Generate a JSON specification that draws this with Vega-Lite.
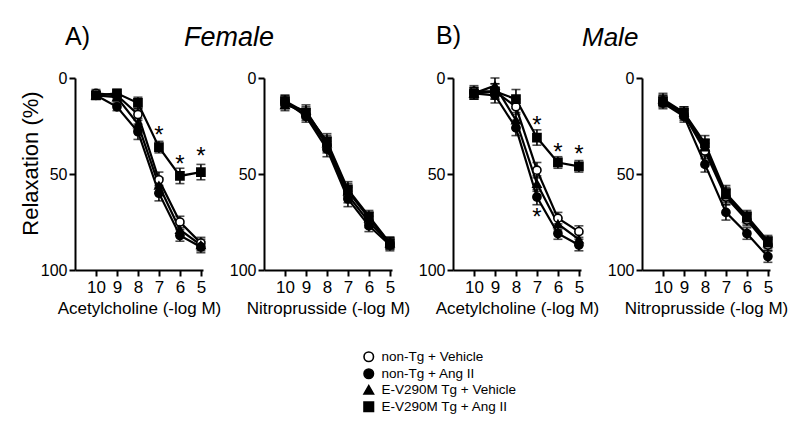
{
  "$schema": "https://vega.github.io/schema/vega-lite/v6.json",
  "autosize": {"type": "none"},
  "padding": {"left": 75, "top": 78, "right": 725, "bottom": 351},
  "background": "white",
  "config": {
    "font": "Liberation Sans",
    "view": {"stroke": null},
    "axis": {"grid": false, "domainColor": "black", "domainWidth": 2, "tickColor": "black", "tickWidth": 2, "tickSize": 6, "labelColor": "black", "labelFontSize": 16, "labelPadding": 2, "titleColor": "black", "titleFontSize": 17, "titleFontWeight": "normal", "titlePadding": 5},
    "axisX": {"labelFontSize": 17, "labelPadding": 3},
    "legend": {"title": null, "padding": 0, "labelFontSize": 13.5, "labelColor": "black", "symbolSize": 90, "symbolStrokeWidth": 1.6, "rowPadding": 0, "labelOffset": 6},
    "title": {"color": "black", "fontWeight": "normal", "baseline": "alphabetic", "frame": "group", "anchor": "start"}
  },
  "datasets": {
    "d": [
      {"p": "A1", "g": "non-Tg + Vehicle", "x": 10, "y": 8, "e": 2},
      {"p": "A1", "g": "non-Tg + Ang II", "x": 10, "y": 9, "e": 2},
      {"p": "A1", "g": "E-V290M Tg + Vehicle", "x": 10, "y": 9, "e": 2},
      {"p": "A1", "g": "E-V290M Tg + Ang II", "x": 10, "y": 9, "e": 2},
      {"p": "A1", "g": "non-Tg + Vehicle", "x": 9, "y": 9, "e": 2},
      {"p": "A1", "g": "non-Tg + Ang II", "x": 9, "y": 15, "e": 2},
      {"p": "A1", "g": "E-V290M Tg + Vehicle", "x": 9, "y": 10, "e": 2},
      {"p": "A1", "g": "E-V290M Tg + Ang II", "x": 9, "y": 8, "e": 2},
      {"p": "A1", "g": "non-Tg + Vehicle", "x": 8, "y": 19, "e": 3},
      {"p": "A1", "g": "non-Tg + Ang II", "x": 8, "y": 28, "e": 4},
      {"p": "A1", "g": "E-V290M Tg + Vehicle", "x": 8, "y": 24, "e": 3},
      {"p": "A1", "g": "E-V290M Tg + Ang II", "x": 8, "y": 13, "e": 3},
      {"p": "A1", "g": "non-Tg + Vehicle", "x": 7, "y": 53, "e": 4},
      {"p": "A1", "g": "non-Tg + Ang II", "x": 7, "y": 60, "e": 4},
      {"p": "A1", "g": "E-V290M Tg + Vehicle", "x": 7, "y": 56, "e": 4},
      {"p": "A1", "g": "E-V290M Tg + Ang II", "x": 7, "y": 36, "e": 3},
      {"p": "A1", "g": "non-Tg + Vehicle", "x": 6, "y": 75, "e": 3},
      {"p": "A1", "g": "non-Tg + Ang II", "x": 6, "y": 82, "e": 3},
      {"p": "A1", "g": "E-V290M Tg + Vehicle", "x": 6, "y": 79, "e": 3},
      {"p": "A1", "g": "E-V290M Tg + Ang II", "x": 6, "y": 51, "e": 4},
      {"p": "A1", "g": "non-Tg + Vehicle", "x": 5, "y": 86, "e": 3},
      {"p": "A1", "g": "non-Tg + Ang II", "x": 5, "y": 88, "e": 3},
      {"p": "A1", "g": "E-V290M Tg + Vehicle", "x": 5, "y": 87, "e": 3},
      {"p": "A1", "g": "E-V290M Tg + Ang II", "x": 5, "y": 49, "e": 4},

      {"p": "A2", "g": "non-Tg + Vehicle", "x": 10, "y": 13, "e": 3},
      {"p": "A2", "g": "non-Tg + Ang II", "x": 10, "y": 12, "e": 3},
      {"p": "A2", "g": "E-V290M Tg + Vehicle", "x": 10, "y": 14, "e": 3},
      {"p": "A2", "g": "E-V290M Tg + Ang II", "x": 10, "y": 12, "e": 3},
      {"p": "A2", "g": "non-Tg + Vehicle", "x": 9, "y": 19, "e": 3},
      {"p": "A2", "g": "non-Tg + Ang II", "x": 9, "y": 20, "e": 3},
      {"p": "A2", "g": "E-V290M Tg + Vehicle", "x": 9, "y": 17, "e": 3},
      {"p": "A2", "g": "E-V290M Tg + Ang II", "x": 9, "y": 18, "e": 3},
      {"p": "A2", "g": "non-Tg + Vehicle", "x": 8, "y": 35, "e": 4},
      {"p": "A2", "g": "non-Tg + Ang II", "x": 8, "y": 37, "e": 4},
      {"p": "A2", "g": "E-V290M Tg + Vehicle", "x": 8, "y": 34, "e": 4},
      {"p": "A2", "g": "E-V290M Tg + Ang II", "x": 8, "y": 33, "e": 4},
      {"p": "A2", "g": "non-Tg + Vehicle", "x": 7, "y": 61, "e": 4},
      {"p": "A2", "g": "non-Tg + Ang II", "x": 7, "y": 63, "e": 4},
      {"p": "A2", "g": "E-V290M Tg + Vehicle", "x": 7, "y": 59, "e": 4},
      {"p": "A2", "g": "E-V290M Tg + Ang II", "x": 7, "y": 58, "e": 4},
      {"p": "A2", "g": "non-Tg + Vehicle", "x": 6, "y": 75, "e": 3},
      {"p": "A2", "g": "non-Tg + Ang II", "x": 6, "y": 77, "e": 3},
      {"p": "A2", "g": "E-V290M Tg + Vehicle", "x": 6, "y": 73, "e": 3},
      {"p": "A2", "g": "E-V290M Tg + Ang II", "x": 6, "y": 72, "e": 3},
      {"p": "A2", "g": "non-Tg + Vehicle", "x": 5, "y": 86, "e": 3},
      {"p": "A2", "g": "non-Tg + Ang II", "x": 5, "y": 87, "e": 3},
      {"p": "A2", "g": "E-V290M Tg + Vehicle", "x": 5, "y": 86, "e": 3},
      {"p": "A2", "g": "E-V290M Tg + Ang II", "x": 5, "y": 86, "e": 3},

      {"p": "B1", "g": "non-Tg + Vehicle", "x": 10, "y": 7, "e": 3},
      {"p": "B1", "g": "non-Tg + Ang II", "x": 10, "y": 8, "e": 3},
      {"p": "B1", "g": "E-V290M Tg + Vehicle", "x": 10, "y": 8, "e": 3},
      {"p": "B1", "g": "E-V290M Tg + Ang II", "x": 10, "y": 8, "e": 3},
      {"p": "B1", "g": "non-Tg + Vehicle", "x": 9, "y": 7, "e": 4},
      {"p": "B1", "g": "non-Tg + Ang II", "x": 9, "y": 9, "e": 4},
      {"p": "B1", "g": "E-V290M Tg + Vehicle", "x": 9, "y": 4, "e": 4},
      {"p": "B1", "g": "E-V290M Tg + Ang II", "x": 9, "y": 7, "e": 4},
      {"p": "B1", "g": "non-Tg + Vehicle", "x": 8, "y": 15, "e": 4},
      {"p": "B1", "g": "non-Tg + Ang II", "x": 8, "y": 26, "e": 4},
      {"p": "B1", "g": "E-V290M Tg + Vehicle", "x": 8, "y": 22, "e": 4},
      {"p": "B1", "g": "E-V290M Tg + Ang II", "x": 8, "y": 11, "e": 5},
      {"p": "B1", "g": "non-Tg + Vehicle", "x": 7, "y": 48, "e": 4},
      {"p": "B1", "g": "non-Tg + Ang II", "x": 7, "y": 62, "e": 4},
      {"p": "B1", "g": "E-V290M Tg + Vehicle", "x": 7, "y": 55, "e": 4},
      {"p": "B1", "g": "E-V290M Tg + Ang II", "x": 7, "y": 31, "e": 4},
      {"p": "B1", "g": "non-Tg + Vehicle", "x": 6, "y": 73, "e": 3},
      {"p": "B1", "g": "non-Tg + Ang II", "x": 6, "y": 81, "e": 3},
      {"p": "B1", "g": "E-V290M Tg + Vehicle", "x": 6, "y": 76, "e": 3},
      {"p": "B1", "g": "E-V290M Tg + Ang II", "x": 6, "y": 44, "e": 3},
      {"p": "B1", "g": "non-Tg + Vehicle", "x": 5, "y": 80, "e": 3},
      {"p": "B1", "g": "non-Tg + Ang II", "x": 5, "y": 87, "e": 3},
      {"p": "B1", "g": "E-V290M Tg + Vehicle", "x": 5, "y": 84, "e": 3},
      {"p": "B1", "g": "E-V290M Tg + Ang II", "x": 5, "y": 46, "e": 3},

      {"p": "B2", "g": "non-Tg + Vehicle", "x": 10, "y": 12, "e": 3},
      {"p": "B2", "g": "non-Tg + Ang II", "x": 10, "y": 13, "e": 3},
      {"p": "B2", "g": "E-V290M Tg + Vehicle", "x": 10, "y": 11, "e": 3},
      {"p": "B2", "g": "E-V290M Tg + Ang II", "x": 10, "y": 12, "e": 3},
      {"p": "B2", "g": "non-Tg + Vehicle", "x": 9, "y": 19, "e": 3},
      {"p": "B2", "g": "non-Tg + Ang II", "x": 9, "y": 20, "e": 3},
      {"p": "B2", "g": "E-V290M Tg + Vehicle", "x": 9, "y": 18, "e": 3},
      {"p": "B2", "g": "E-V290M Tg + Ang II", "x": 9, "y": 18, "e": 3},
      {"p": "B2", "g": "non-Tg + Vehicle", "x": 8, "y": 38, "e": 4},
      {"p": "B2", "g": "non-Tg + Ang II", "x": 8, "y": 45, "e": 4},
      {"p": "B2", "g": "E-V290M Tg + Vehicle", "x": 8, "y": 36, "e": 4},
      {"p": "B2", "g": "E-V290M Tg + Ang II", "x": 8, "y": 34, "e": 4},
      {"p": "B2", "g": "non-Tg + Vehicle", "x": 7, "y": 62, "e": 4},
      {"p": "B2", "g": "non-Tg + Ang II", "x": 7, "y": 70, "e": 4},
      {"p": "B2", "g": "E-V290M Tg + Vehicle", "x": 7, "y": 61, "e": 4},
      {"p": "B2", "g": "E-V290M Tg + Ang II", "x": 7, "y": 60, "e": 4},
      {"p": "B2", "g": "non-Tg + Vehicle", "x": 6, "y": 74, "e": 3},
      {"p": "B2", "g": "non-Tg + Ang II", "x": 6, "y": 81, "e": 3},
      {"p": "B2", "g": "E-V290M Tg + Vehicle", "x": 6, "y": 73, "e": 3},
      {"p": "B2", "g": "E-V290M Tg + Ang II", "x": 6, "y": 72, "e": 3},
      {"p": "B2", "g": "non-Tg + Vehicle", "x": 5, "y": 87, "e": 3},
      {"p": "B2", "g": "non-Tg + Ang II", "x": 5, "y": 93, "e": 3},
      {"p": "B2", "g": "E-V290M Tg + Vehicle", "x": 5, "y": 86, "e": 3},
      {"p": "B2", "g": "E-V290M Tg + Ang II", "x": 5, "y": 85, "e": 3}
    ],
    "s": [
      {"p": "A1", "x": 7, "y": 27},
      {"p": "A1", "x": 6, "y": 42},
      {"p": "A1", "x": 5, "y": 38},
      {"p": "B1", "x": 7, "y": 22},
      {"p": "B1", "x": 6, "y": 36},
      {"p": "B1", "x": 5, "y": 37},
      {"p": "B1", "x": 7, "y": 70}
    ]
  },
  "bounds": "flush",
  "spacing": 61,
  "resolve": {"scale": {"x": "independent", "y": "independent", "shape": "shared", "fill": "shared", "stroke": "shared"}},
  "hconcat": [
    {
      "width": 128, "height": 192,
      "title": {"text": "A)", "fontSize": 25, "dx": -10, "offset": 20},
      "layer": [
        {"data": {"name": "d"}, "transform": [{"filter": "datum.p === 'A1'"}],
         "mark": {"type": "line", "color": "black", "strokeWidth": 2.2},
         "encoding": {
           "x": {"field": "x", "type": "quantitative", "scale": {"domain": [4.9, 11], "reverse": true, "nice": false, "zero": false}, "axis": {"values": [10, 9, 8, 7, 6, 5], "title": "Acetylcholine (-log M)", "labelFlush": false, "labelOverlap": false}},
           "y": {"field": "y", "type": "quantitative", "scale": {"domain": [0, 100], "reverse": true, "nice": false}, "axis": {"values": [0, 50, 100], "title": "Relaxation (%)", "titleFontSize": 22, "titlePadding": -2, "titleY": 85}},
           "detail": {"field": "g"}}},
        {"data": {"name": "d"}, "transform": [{"filter": "datum.p === 'A1'"}],
         "mark": {"type": "errorbar", "color": "black", "thickness": 1.6, "ticks": {"size": 9, "thickness": 1.6, "color": "black"}},
         "encoding": {
           "x": {"field": "x", "type": "quantitative", "scale": {"domain": [4.9, 11], "reverse": true, "nice": false, "zero": false}, "axis": {"values": [10, 9, 8, 7, 6, 5], "title": "Acetylcholine (-log M)", "labelFlush": false, "labelOverlap": false}},
           "y": {"field": "y", "type": "quantitative", "scale": {"domain": [0, 100], "reverse": true, "nice": false}, "axis": {"values": [0, 50, 100], "title": "Relaxation (%)", "titleFontSize": 22, "titlePadding": -2, "titleY": 85}},
           "yError": {"field": "e"}}},
        {"data": {"name": "d"}, "transform": [{"filter": "datum.p === 'A1'"}],
         "mark": {"type": "point", "filled": true, "size": 66, "strokeWidth": 1.6, "opacity": 1},
         "encoding": {
           "x": {"field": "x", "type": "quantitative", "scale": {"domain": [4.9, 11], "reverse": true, "nice": false, "zero": false}, "axis": {"values": [10, 9, 8, 7, 6, 5], "title": "Acetylcholine (-log M)", "labelFlush": false, "labelOverlap": false}},
           "y": {"field": "y", "type": "quantitative", "scale": {"domain": [0, 100], "reverse": true, "nice": false}, "axis": {"values": [0, 50, 100], "title": "Relaxation (%)", "titleFontSize": 22, "titlePadding": -2, "titleY": 85}},
           "shape": {"field": "g", "type": "nominal", "scale": {"domain": ["non-Tg + Vehicle", "non-Tg + Ang II", "E-V290M Tg + Vehicle", "E-V290M Tg + Ang II"], "range": ["circle", "circle", "triangle-up", "square"]}, "legend": {"orient": "none", "legendX": 287, "legendY": 272}},
           "fill": {"field": "g", "type": "nominal", "scale": {"domain": ["non-Tg + Vehicle", "non-Tg + Ang II", "E-V290M Tg + Vehicle", "E-V290M Tg + Ang II"], "range": ["white", "black", "black", "black"]}, "legend": {"orient": "none", "legendX": 287, "legendY": 272}},
           "stroke": {"field": "g", "type": "nominal", "scale": {"domain": ["non-Tg + Vehicle", "non-Tg + Ang II", "E-V290M Tg + Vehicle", "E-V290M Tg + Ang II"], "range": ["black", "black", "black", "black"]}, "legend": {"orient": "none", "legendX": 287, "legendY": 272}}}},
        {"data": {"name": "s"}, "transform": [{"filter": "datum.p === 'A1'"}],
         "mark": {"type": "text", "text": "*", "fontSize": 24, "color": "black", "baseline": "alphabetic", "dy": 13},
         "encoding": {
           "x": {"field": "x", "type": "quantitative", "scale": {"domain": [4.9, 11], "reverse": true, "nice": false, "zero": false}, "axis": {"values": [10, 9, 8, 7, 6, 5], "title": "Acetylcholine (-log M)", "labelFlush": false, "labelOverlap": false}},
           "y": {"field": "y", "type": "quantitative", "scale": {"domain": [0, 100], "reverse": true, "nice": false}, "axis": {"values": [0, 50, 100], "title": "Relaxation (%)", "titleFontSize": 22, "titlePadding": -2, "titleY": 85}}}}
      ]
    },
    {
      "width": 128, "height": 192,
      "title": {"text": "Female", "fontSize": 27, "fontStyle": "italic", "dx": -80, "offset": 18},
      "layer": [
        {"data": {"name": "d"}, "transform": [{"filter": "datum.p === 'A2'"}],
         "mark": {"type": "line", "color": "black", "strokeWidth": 2.2},
         "encoding": {
           "x": {"field": "x", "type": "quantitative", "scale": {"domain": [4.9, 11], "reverse": true, "nice": false, "zero": false}, "axis": {"values": [10, 9, 8, 7, 6, 5], "title": "Nitroprusside (-log M)", "labelFlush": false, "labelOverlap": false}},
           "y": {"field": "y", "type": "quantitative", "scale": {"domain": [0, 100], "reverse": true, "nice": false}, "axis": {"values": [0, 50, 100], "title": null}},
           "detail": {"field": "g"}}},
        {"data": {"name": "d"}, "transform": [{"filter": "datum.p === 'A2'"}],
         "mark": {"type": "errorbar", "color": "black", "thickness": 1.6, "ticks": {"size": 9, "thickness": 1.6, "color": "black"}},
         "encoding": {
           "x": {"field": "x", "type": "quantitative", "scale": {"domain": [4.9, 11], "reverse": true, "nice": false, "zero": false}, "axis": {"values": [10, 9, 8, 7, 6, 5], "title": "Nitroprusside (-log M)", "labelFlush": false, "labelOverlap": false}},
           "y": {"field": "y", "type": "quantitative", "scale": {"domain": [0, 100], "reverse": true, "nice": false}, "axis": {"values": [0, 50, 100], "title": null}},
           "yError": {"field": "e"}}},
        {"data": {"name": "d"}, "transform": [{"filter": "datum.p === 'A2'"}],
         "mark": {"type": "point", "filled": true, "size": 66, "strokeWidth": 1.6, "opacity": 1},
         "encoding": {
           "x": {"field": "x", "type": "quantitative", "scale": {"domain": [4.9, 11], "reverse": true, "nice": false, "zero": false}, "axis": {"values": [10, 9, 8, 7, 6, 5], "title": "Nitroprusside (-log M)", "labelFlush": false, "labelOverlap": false}},
           "y": {"field": "y", "type": "quantitative", "scale": {"domain": [0, 100], "reverse": true, "nice": false}, "axis": {"values": [0, 50, 100], "title": null}},
           "shape": {"field": "g", "type": "nominal", "scale": {"domain": ["non-Tg + Vehicle", "non-Tg + Ang II", "E-V290M Tg + Vehicle", "E-V290M Tg + Ang II"], "range": ["circle", "circle", "triangle-up", "square"]}, "legend": {"orient": "none", "legendX": 287, "legendY": 272}},
           "fill": {"field": "g", "type": "nominal", "scale": {"domain": ["non-Tg + Vehicle", "non-Tg + Ang II", "E-V290M Tg + Vehicle", "E-V290M Tg + Ang II"], "range": ["white", "black", "black", "black"]}, "legend": {"orient": "none", "legendX": 287, "legendY": 272}},
           "stroke": {"field": "g", "type": "nominal", "scale": {"domain": ["non-Tg + Vehicle", "non-Tg + Ang II", "E-V290M Tg + Vehicle", "E-V290M Tg + Ang II"], "range": ["black", "black", "black", "black"]}, "legend": {"orient": "none", "legendX": 287, "legendY": 272}}}}
      ]
    },
    {
      "width": 128, "height": 192,
      "title": {"text": "B)", "fontSize": 25, "dx": -17, "offset": 21},
      "layer": [
        {"data": {"name": "d"}, "transform": [{"filter": "datum.p === 'B1'"}],
         "mark": {"type": "line", "color": "black", "strokeWidth": 2.2},
         "encoding": {
           "x": {"field": "x", "type": "quantitative", "scale": {"domain": [4.9, 11], "reverse": true, "nice": false, "zero": false}, "axis": {"values": [10, 9, 8, 7, 6, 5], "title": "Acetylcholine (-log M)", "labelFlush": false, "labelOverlap": false}},
           "y": {"field": "y", "type": "quantitative", "scale": {"domain": [0, 100], "reverse": true, "nice": false}, "axis": {"values": [0, 50, 100], "title": null}},
           "detail": {"field": "g"}}},
        {"data": {"name": "d"}, "transform": [{"filter": "datum.p === 'B1'"}],
         "mark": {"type": "errorbar", "color": "black", "thickness": 1.6, "ticks": {"size": 9, "thickness": 1.6, "color": "black"}},
         "encoding": {
           "x": {"field": "x", "type": "quantitative", "scale": {"domain": [4.9, 11], "reverse": true, "nice": false, "zero": false}, "axis": {"values": [10, 9, 8, 7, 6, 5], "title": "Acetylcholine (-log M)", "labelFlush": false, "labelOverlap": false}},
           "y": {"field": "y", "type": "quantitative", "scale": {"domain": [0, 100], "reverse": true, "nice": false}, "axis": {"values": [0, 50, 100], "title": null}},
           "yError": {"field": "e"}}},
        {"data": {"name": "d"}, "transform": [{"filter": "datum.p === 'B1'"}],
         "mark": {"type": "point", "filled": true, "size": 66, "strokeWidth": 1.6, "opacity": 1},
         "encoding": {
           "x": {"field": "x", "type": "quantitative", "scale": {"domain": [4.9, 11], "reverse": true, "nice": false, "zero": false}, "axis": {"values": [10, 9, 8, 7, 6, 5], "title": "Acetylcholine (-log M)", "labelFlush": false, "labelOverlap": false}},
           "y": {"field": "y", "type": "quantitative", "scale": {"domain": [0, 100], "reverse": true, "nice": false}, "axis": {"values": [0, 50, 100], "title": null}},
           "shape": {"field": "g", "type": "nominal", "scale": {"domain": ["non-Tg + Vehicle", "non-Tg + Ang II", "E-V290M Tg + Vehicle", "E-V290M Tg + Ang II"], "range": ["circle", "circle", "triangle-up", "square"]}, "legend": {"orient": "none", "legendX": 287, "legendY": 272}},
           "fill": {"field": "g", "type": "nominal", "scale": {"domain": ["non-Tg + Vehicle", "non-Tg + Ang II", "E-V290M Tg + Vehicle", "E-V290M Tg + Ang II"], "range": ["white", "black", "black", "black"]}, "legend": {"orient": "none", "legendX": 287, "legendY": 272}},
           "stroke": {"field": "g", "type": "nominal", "scale": {"domain": ["non-Tg + Vehicle", "non-Tg + Ang II", "E-V290M Tg + Vehicle", "E-V290M Tg + Ang II"], "range": ["black", "black", "black", "black"]}, "legend": {"orient": "none", "legendX": 287, "legendY": 272}}}},
        {"data": {"name": "s"}, "transform": [{"filter": "datum.p === 'B1'"}],
         "mark": {"type": "text", "text": "*", "fontSize": 24, "color": "black", "baseline": "alphabetic", "dy": 13},
         "encoding": {
           "x": {"field": "x", "type": "quantitative", "scale": {"domain": [4.9, 11], "reverse": true, "nice": false, "zero": false}, "axis": {"values": [10, 9, 8, 7, 6, 5], "title": "Acetylcholine (-log M)", "labelFlush": false, "labelOverlap": false}},
           "y": {"field": "y", "type": "quantitative", "scale": {"domain": [0, 100], "reverse": true, "nice": false}, "axis": {"values": [0, 50, 100], "title": null}}}}
      ]
    },
    {
      "width": 128, "height": 192,
      "title": {"text": "Male", "fontSize": 26, "fontStyle": "italic", "dx": -60, "offset": 19},
      "layer": [
        {"data": {"name": "d"}, "transform": [{"filter": "datum.p === 'B2'"}],
         "mark": {"type": "line", "color": "black", "strokeWidth": 2.2},
         "encoding": {
           "x": {"field": "x", "type": "quantitative", "scale": {"domain": [4.9, 11], "reverse": true, "nice": false, "zero": false}, "axis": {"values": [10, 9, 8, 7, 6, 5], "title": "Nitroprusside (-log M)", "labelFlush": false, "labelOverlap": false}},
           "y": {"field": "y", "type": "quantitative", "scale": {"domain": [0, 100], "reverse": true, "nice": false}, "axis": {"values": [0, 50, 100], "title": null}},
           "detail": {"field": "g"}}},
        {"data": {"name": "d"}, "transform": [{"filter": "datum.p === 'B2'"}],
         "mark": {"type": "errorbar", "color": "black", "thickness": 1.6, "ticks": {"size": 9, "thickness": 1.6, "color": "black"}},
         "encoding": {
           "x": {"field": "x", "type": "quantitative", "scale": {"domain": [4.9, 11], "reverse": true, "nice": false, "zero": false}, "axis": {"values": [10, 9, 8, 7, 6, 5], "title": "Nitroprusside (-log M)", "labelFlush": false, "labelOverlap": false}},
           "y": {"field": "y", "type": "quantitative", "scale": {"domain": [0, 100], "reverse": true, "nice": false}, "axis": {"values": [0, 50, 100], "title": null}},
           "yError": {"field": "e"}}},
        {"data": {"name": "d"}, "transform": [{"filter": "datum.p === 'B2'"}],
         "mark": {"type": "point", "filled": true, "size": 66, "strokeWidth": 1.6, "opacity": 1},
         "encoding": {
           "x": {"field": "x", "type": "quantitative", "scale": {"domain": [4.9, 11], "reverse": true, "nice": false, "zero": false}, "axis": {"values": [10, 9, 8, 7, 6, 5], "title": "Nitroprusside (-log M)", "labelFlush": false, "labelOverlap": false}},
           "y": {"field": "y", "type": "quantitative", "scale": {"domain": [0, 100], "reverse": true, "nice": false}, "axis": {"values": [0, 50, 100], "title": null}},
           "shape": {"field": "g", "type": "nominal", "scale": {"domain": ["non-Tg + Vehicle", "non-Tg + Ang II", "E-V290M Tg + Vehicle", "E-V290M Tg + Ang II"], "range": ["circle", "circle", "triangle-up", "square"]}, "legend": {"orient": "none", "legendX": 287, "legendY": 272}},
           "fill": {"field": "g", "type": "nominal", "scale": {"domain": ["non-Tg + Vehicle", "non-Tg + Ang II", "E-V290M Tg + Vehicle", "E-V290M Tg + Ang II"], "range": ["white", "black", "black", "black"]}, "legend": {"orient": "none", "legendX": 287, "legendY": 272}},
           "stroke": {"field": "g", "type": "nominal", "scale": {"domain": ["non-Tg + Vehicle", "non-Tg + Ang II", "E-V290M Tg + Vehicle", "E-V290M Tg + Ang II"], "range": ["black", "black", "black", "black"]}, "legend": {"orient": "none", "legendX": 287, "legendY": 272}}}}
      ]
    }
  ]
}
